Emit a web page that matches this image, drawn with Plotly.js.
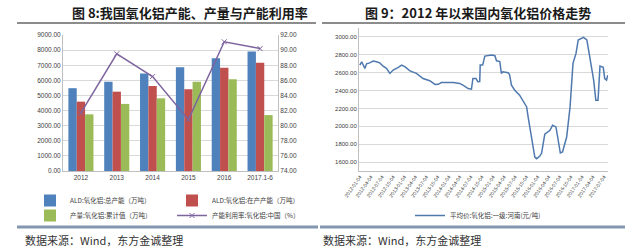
<!DOCTYPE html>
<html>
<head>
<meta charset="utf-8">
<script src="https://cdn.plot.ly/plotly-3.0.1.min.js"></script>
<style>
html,body{margin:0;padding:0;background:#fff;}
#chart{width:640px;height:250px;}
</style>
</head>
<body>
<div id="chart"></div>
<script>
// ---- Figure 8 data ----
const years = ["2012", "2013", "2014", "2015", "2016", "2017.1-6"];
const totalCapacity = [5480, 5910, 6450, 6870, 7460, 7900];
const operatingCapacity = [4590, 5250, 5630, 5410, 6840, 7170];
const outputCumulative = [3750, 4440, 4810, 5910, 6070, 3700];
const utilizationRate = [81.7, 89.5, 86.5, 80.8, 91.1, 90.2];

const leftNames = ["ALD:氧化铝:总产能（万吨）", "ALD:氧化铝:在产产能（万吨）", "产量:氧化铝:累计值（万吨）", "产能利用率:氧化铝:中国（%）"];

// ---- Figure 9 data ----
const priceDates = [
  "2012-01-04","2012-01-19","2012-02-14","2012-02-28","2012-03-25","2012-04-22","2012-05-19","2012-06-16",
  "2012-07-13","2012-08-10","2012-09-07","2012-10-04","2012-11-15","2012-12-13","2013-01-10","2013-02-19",
  "2013-04-13","2013-06-07","2013-08-01","2013-09-13","2013-10-10","2013-11-04","2014-02-10","2014-04-04",
  "2014-05-01","2014-06-13","2014-07-10","2014-07-22","2014-08-16","2014-09-01","2014-09-16","2014-09-20",
  "2014-10-10","2014-10-28","2014-12-22","2015-01-19","2015-02-01","2015-02-28","2015-03-13","2015-03-25",
  "2015-05-07","2015-05-19","2015-06-04","2015-07-01","2015-08-10","2015-09-07","2015-10-07","2015-10-19",
  "2015-11-01","2015-11-16","2015-12-13","2015-12-28","2016-01-22","2016-02-07","2016-02-19","2016-03-04",
  "2016-04-16","2016-05-07","2016-06-04","2016-06-22","2016-07-10","2016-07-28","2016-08-31","2016-09-28",
  "2016-10-10","2016-10-22","2016-11-16","2016-12-04","2017-01-16","2017-02-13","2017-03-04","2017-03-22",
  "2017-04-10","2017-04-28","2017-05-16","2017-06-01","2017-06-28","2017-07-10","2017-07-25","2017-08-04"
];
const priceValues = [
  2685,2722,2648,2700,2710,2730,2722,2710,
  2673,2648,2592,2630,2660,2685,2665,2620,
  2592,2535,2510,2468,2470,2490,2490,2480,
  2460,2423,2415,2535,2535,2498,2500,2685,
  2685,2786,2797,2790,2733,2725,2592,2610,
  2600,2580,2460,2404,2348,2292,2217,2105,
  1993,1880,1656,1638,1664,1701,1806,1911,
  1956,2012,1993,1843,1701,1712,1880,2217,
  2517,2704,2816,2966,2996,2966,2816,2685,
  2517,2292,2292,2673,2660,2535,2517,2573
];
const priceName = "平均价:氧化铝:一级:河南(元/吨)";
const dateTickVals = [
  "2012-01-04","2012-04-04","2012-07-04","2012-10-04",
  "2013-01-04","2013-04-04","2013-07-04","2013-10-04",
  "2014-01-04","2014-04-04","2014-07-04","2014-10-04",
  "2015-01-04","2015-04-04","2015-07-04","2015-10-04",
  "2016-01-04","2016-04-04","2016-07-04","2016-10-04",
  "2017-01-04","2017-04-04","2017-07-04"
];

const tickFont = {family: "Liberation Sans, Arial, sans-serif", size: 6.5, color: "#404040"};
const cjk = "Noto Sans CJK SC, sans-serif";

const traces = [
  {type: "bar", x: years, y: totalCapacity, name: leftNames[0], marker: {color: "#4F81BD"}, xaxis: "x", yaxis: "y", legend: "legend"},
  {type: "bar", x: years, y: operatingCapacity, name: leftNames[1], marker: {color: "#C0504D"}, xaxis: "x", yaxis: "y", legend: "legend"},
  {type: "bar", x: years, y: outputCumulative, name: leftNames[2], marker: {color: "#9BBB59"}, xaxis: "x", yaxis: "y", legend: "legend2"},
  {type: "scatter", mode: "lines+markers", x: years, y: utilizationRate, name: leftNames[3],
   line: {color: "#7E649E", width: 1.5}, marker: {symbol: "x-thin", size: 5, color: "#7E649E", line: {color: "#7E649E", width: 1}},
   xaxis: "x", yaxis: "y2", legend: "legend2"},
  {type: "scatter", mode: "lines", x: priceDates, y: priceValues, name: priceName,
   line: {color: "#4F79AE", width: 1.5}, xaxis: "x2", yaxis: "y3", legend: "legend3"}
];

const layout = {
  width: 640, height: 250,
  margin: {l: 0, r: 0, t: 0, b: 0},
  paper_bgcolor: "#ffffff", plot_bgcolor: "#ffffff",
  barmode: "group", bargap: 0.3, bargroupgap: 0,
  xaxis: {domain: [63/640, 278/640], anchor: "y", type: "category", showline: true, linecolor: "#bfbfbf",
    ticks: "", tickfont: tickFont, showgrid: false, fixedrange: true},
  yaxis: {domain: [1-171/250, 1-35/250], range: [0, 9000], dtick: 1000, tickformat: ".2f",
    showline: true, linecolor: "#bfbfbf", gridcolor: "#d9d9d9", gridwidth: 1, ticks: "", tickfont: tickFont, zeroline: false},
  yaxis2: {overlaying: "y", side: "right", anchor: "x", range: [74, 92], dtick: 2, tickformat: ".2f",
    showline: true, linecolor: "#bfbfbf", showgrid: false, ticks: "", tickfont: tickFont, zeroline: false},
  xaxis2: {domain: [359/640, 608/640], anchor: "y3", type: "date", range: ["2011-12-28", "2017-08-06"],
    tickvals: dateTickVals, ticktext: dateTickVals, tickangle: -55, tickfont: {family: "Liberation Sans, Arial, sans-serif", size: 5, color: "#404040"},
    showline: true, linecolor: "#bfbfbf", showgrid: false, ticks: ""},
  yaxis3: {domain: [1-171/250, 1-28/250], anchor: "x2", range: [1500, 3100], dtick: 200, tickformat: ".2f",
    showline: true, linecolor: "#bfbfbf", gridcolor: "#d9d9d9", ticks: "", tickfont: {family: "Liberation Sans, Arial, sans-serif", size: 6, color: "#404040"}, zeroline: false},
  legend: {orientation: "h", x: 30/640, y: 1-186/250, xanchor: "left", yanchor: "top", entrywidth: 97, entrywidthmode: "pixels",
    font: {family: cjk, size: 6.5, color: "#404040"}, itemwidth: 30, bgcolor: "rgba(0,0,0,0)", tracegroupgap: 0},
  legend2: {orientation: "h", x: 30/640, y: 1-201/250, xanchor: "left", yanchor: "top", entrywidth: 97, entrywidthmode: "pixels",
    font: {family: cjk, size: 6.5, color: "#404040"}, itemwidth: 30, bgcolor: "rgba(0,0,0,0)"},
  legend3: {orientation: "h", x: 478/640, y: 1-201/250, xanchor: "center", yanchor: "top",
    font: {family: cjk, size: 6.5, color: "#404040"}, itemwidth: 30, bgcolor: "rgba(0,0,0,0)"},
  annotations: [
    {text: "<b>图 8:我国氧化铝产能、产量与产能利用率</b>", xref: "paper", yref: "paper", x: 190/640, y: 1-12/250,
     xanchor: "center", yanchor: "middle", showarrow: false, font: {family: cjk, size: 13, color: "#1a1a1a"}},
    {text: "<b>图 9：2012 年以来国内氧化铝价格走势</b>", xref: "paper", yref: "paper", x: 478/640, y: 1-12/250,
     xanchor: "center", yanchor: "middle", showarrow: false, font: {family: cjk, size: 13, color: "#1a1a1a"}},
    {text: "数据来源：Wind，东方金诚整理", xref: "paper", yref: "paper", x: 23/640, y: 1-240/250,
     xanchor: "left", yanchor: "middle", showarrow: false, font: {family: cjk, size: 11, color: "#333333"}},
    {text: "数据来源：Wind，东方金诚整理", xref: "paper", yref: "paper", x: 321/640, y: 1-240/250,
     xanchor: "left", yanchor: "middle", showarrow: false, font: {family: cjk, size: 11, color: "#333333"}}
  ],
  shapes: [
    {type: "line", xref: "paper", yref: "paper", x0: 17/640, x1: 316/640, y0: 1-23/250, y1: 1-23/250, line: {color: "#8c8c8c", width: 2}},
    {type: "line", xref: "paper", yref: "paper", x0: 322/640, x1: 625/640, y0: 1-23/250, y1: 1-23/250, line: {color: "#8c8c8c", width: 2}},
    {type: "line", xref: "paper", yref: "paper", x0: 17/640, x1: 318/640, y0: 1-227/250, y1: 1-227/250, line: {color: "#8497B0", width: 3}},
    {type: "line", xref: "paper", yref: "paper", x0: 320/640, x1: 625/640, y0: 1-227/250, y1: 1-227/250, line: {color: "#8497B0", width: 3}}
  ],
  showlegend: true
};

Plotly.newPlot("chart", traces, layout, {staticPlot: true, displayModeBar: false});
</script>
</body>
</html>
